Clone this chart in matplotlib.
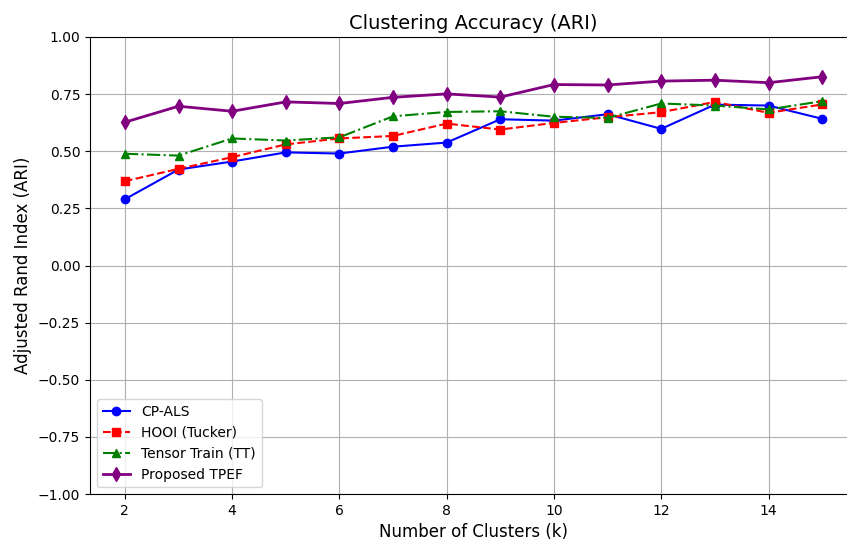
import matplotlib
matplotlib.use("Agg")
import matplotlib.pyplot as plt

k = [2, 3, 4, 5, 6, 7, 8, 9, 10, 11, 12, 13, 14, 15]
cp_als = [0.29, 0.42, 0.455, 0.495, 0.49, 0.52, 0.538, 0.64, 0.634, 0.662, 0.598, 0.704, 0.70, 0.642]
hooi = [0.369, 0.423, 0.474, 0.53, 0.556, 0.567, 0.621, 0.595, 0.624, 0.649, 0.671, 0.716, 0.668, 0.705]
tt = [0.489, 0.481, 0.556, 0.547, 0.561, 0.653, 0.672, 0.675, 0.651, 0.646, 0.709, 0.70, 0.683, 0.719]
tpef = [0.627, 0.697, 0.675, 0.716, 0.709, 0.736, 0.751, 0.737, 0.792, 0.79, 0.807, 0.811, 0.80, 0.826]

fig = plt.figure(figsize=(8.47, 5.4), dpi=100)
ax = fig.add_axes([90/847, 1 - 494/540, (857 - 90)/847, (494 - 37)/540])

ax.plot(k, cp_als, 'o-', color='blue', label='CP-ALS', linewidth=1.5, markersize=6)
ax.plot(k, hooi, 's--', color='red', label='HOOI (Tucker)', linewidth=1.5, markersize=6)
ax.plot(k, tt, '^-.', color='green', label='Tensor Train (TT)', linewidth=1.5, markersize=6)
ax.plot(k, tpef, 'd-', color='purple', label='Proposed TPEF', linewidth=2, markersize=7)

ax.set_ylim(-1.0, 1.0)
ax.set_xlabel('Number of Clusters (k)', fontsize=12)
ax.set_ylabel('Adjusted Rand Index (ARI)', fontsize=12)
ax.set_title('Clustering Accuracy (ARI)', fontsize=14)
ax.grid(True)
ax.legend(loc='lower left')

fig.savefig('out.png', dpi=100)
